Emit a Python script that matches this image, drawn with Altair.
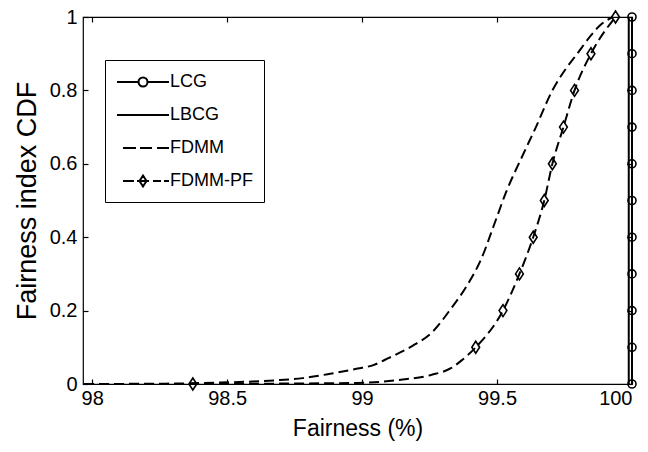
import altair as alt
import pandas as pd

# ---------------- data ----------------
series_names = ["LCG", "LBCG", "FDMM", "FDMM-PF"]

lcg_x = [100.0] * 11
lcg_y = [0.0, 0.1, 0.2, 0.3, 0.4, 0.5, 0.6, 0.7, 0.8, 0.9, 1.0]

lbcg_x = [99.988, 99.988]
lbcg_y = [0.0, 1.0]

fdmm_x = [97.97, 98.272, 98.475, 98.678, 98.78, 98.882, 98.983, 99.044, 99.085, 99.136,
          99.187, 99.258, 99.329, 99.39, 99.441, 99.492, 99.532, 99.593, 99.644, 99.705,
          99.756, 99.797, 99.848, 99.878, 99.929]
fdmm_y = [0.0, 0.001, 0.004, 0.01, 0.016, 0.028, 0.042, 0.052, 0.066, 0.084,
          0.104, 0.14, 0.205, 0.27, 0.34, 0.44, 0.52, 0.62, 0.70, 0.80,
          0.86, 0.90, 0.95, 0.975, 1.0]

pf_x = [97.97, 98.373, 98.678, 98.983, 99.136, 99.258, 99.329, 99.37, 99.421, 99.522,
        99.583, 99.634, 99.675, 99.705, 99.746, 99.787, 99.848, 99.939]
pf_y = [0.0, 0.0, 0.001, 0.003, 0.011, 0.025, 0.043, 0.065, 0.1, 0.2,
        0.3, 0.4, 0.5, 0.6, 0.7, 0.8, 0.9, 1.0]

pf_mk_x = [98.373, 99.421, 99.522, 99.583, 99.634, 99.675, 99.705, 99.746, 99.787,
           99.848, 99.939]
pf_mk_y = [0.0, 0.1, 0.2, 0.3, 0.4, 0.5, 0.6, 0.7, 0.8, 0.9, 1.0]

x_domain = [97.966, 100]
x_ticks = [98, 98.5, 99, 99.5, 100]
y_ticks = [0, 0.2, 0.4, 0.6, 0.8, 1.0]

# ---------------- tables ----------------
df_lcg = pd.DataFrame({"x": lcg_x, "y": lcg_y})
df_lbcg = pd.DataFrame({"x": lbcg_x, "y": lbcg_y})
df_fdmm = pd.DataFrame({"x": fdmm_x, "y": fdmm_y})
df_pf = pd.DataFrame({"x": pf_x, "y": pf_y})
df_pf_mk = pd.DataFrame({"x": pf_mk_x, "y": pf_mk_y})
df_leg = pd.DataFrame({"series": series_names, "x": [100.0] * 4, "y": [1.0] * 4})

FONT = "Liberation Sans"
xs = alt.Scale(domain=x_domain, nice=False, zero=False)
ys = alt.Scale(domain=[0, 1], nice=False, zero=False)

def X(axis=None):
    return alt.X("x:Q", scale=xs, axis=axis)

def Y(axis=None):
    return alt.Y("y:Q", scale=ys, axis=axis)

bottom_axis = alt.Axis(orient="bottom", values=x_ticks, format="~g", title="Fairness (%)",
                       domain=False, grid=False, ticks=True, tickSize=5, offset=-5,
                       tickColor="black", tickWidth=1.2, labelPadding=4, labelColor="black",
                       labelFont=FONT, labelFontSize=20, titleFont=FONT, titleFontSize=23,
                       titleFontWeight="normal", titleColor="black", titlePadding=9)
left_axis = alt.Axis(orient="left", values=y_ticks, format="~g", title="Fairness index CDF",
                     domain=False, grid=False, ticks=True, tickSize=5, offset=-5,
                     tickColor="black", tickWidth=1.2, labelPadding=6, labelColor="black",
                     labelFont=FONT, labelFontSize=20, titleFont=FONT, titleFontSize=27,
                     titleFontWeight="normal", titleColor="black", titlePadding=8)
top_axis = alt.Axis(orient="top", values=x_ticks, labels=False, title=None, domain=False,
                    grid=False, ticks=True, tickSize=5, offset=-5, tickColor="black",
                    tickWidth=1.2)
right_axis = alt.Axis(orient="right", values=y_ticks, labels=False, title=None, domain=False,
                      grid=False, ticks=True, tickSize=5, offset=-5, tickColor="black",
                      tickWidth=1.2)

dash = [10, 5]

fdmm_line = alt.Chart(df_fdmm).mark_line(color="black", strokeWidth=2, strokeDash=dash,
                                         interpolate="monotone").encode(
    x=X(bottom_axis), y=Y(left_axis))

pf_line = alt.Chart(df_pf).mark_line(color="black", strokeWidth=2, strokeDash=dash,
                                     interpolate="monotone").encode(
    x=X(top_axis), y=Y(right_axis))

diamond = "M0,-1L0.65,0L0,1L-0.65,0Z"
pf_pts = alt.Chart(df_pf_mk).mark_point(shape=diamond, size=144, filled=False,
                                        color="black", strokeWidth=1.6, opacity=1).encode(
    x=X(), y=Y())

lbcg_line = alt.Chart(df_lbcg).mark_line(color="black", strokeWidth=2).encode(
    x=X(), y=Y(), order="y:Q")

lcg_line = alt.Chart(df_lcg).mark_line(color="black", strokeWidth=2).encode(
    x=X(), y=Y(), order="y:Q")
lcg_pts = alt.Chart(df_lcg).mark_point(shape="circle", size=64, filled=False,
                                       color="black", strokeWidth=1.6, opacity=1).encode(
    x=X(), y=Y())

# legend symbols (line + marker) as custom paths
sym_lcg = "M-1,0H1.15M2.05,0H4.2M2.05,0A0.45,0.45,0,1,1,1.15,0A0.45,0.45,0,1,1,2.05,0"
sym_lbcg = "M-1,0H4.2"
sym_fdmm = "M-0.4,0H0.9M1.3,0H2.5M3,0H4.2"
sym_pf = "M-0.4,0H0.7M1,0H2.2M2.6,0H3.4M3.7,0H4.2M1.6,-0.55L1.95,0L1.6,0.55L1.25,0Z"

legend_layer = alt.Chart(df_leg).mark_point(filled=False, color="black", opacity=0).encode(
    x=X(), y=Y(),
    shape=alt.Shape("series:N",
                    scale=alt.Scale(domain=series_names,
                                    range=[sym_lcg, sym_lbcg, sym_fdmm, sym_pf]),
                    sort=series_names,
                    legend=alt.Legend(title=None, orient="none", legendX=22, legendY=43,
                                      symbolSize=400, symbolStrokeWidth=2,
                                      symbolStrokeColor="black", symbolOpacity=1,
                                      symbolFillColor="transparent",
                                      labelOffset=32, labelFont=FONT, labelFontSize=18,
                                      labelColor="black", rowPadding=13, padding=11,
                                      strokeColor="black", fillColor="white",
                                      cornerRadius=0)))

chart = alt.layer(
    fdmm_line, pf_line, pf_pts, lbcg_line, lcg_line, lcg_pts, legend_layer
).resolve_axis(x="independent", y="independent").properties(
    width=549, height=367,
    padding={"left": 83, "top": 17, "right": 16, "bottom": 68},
    autosize=alt.AutoSizeParams(type="none"),
    background="white",
).configure_view(stroke="black", strokeWidth=1.2)

chart.save("out.html", embed_options={"renderer": "svg", "actions": False})
